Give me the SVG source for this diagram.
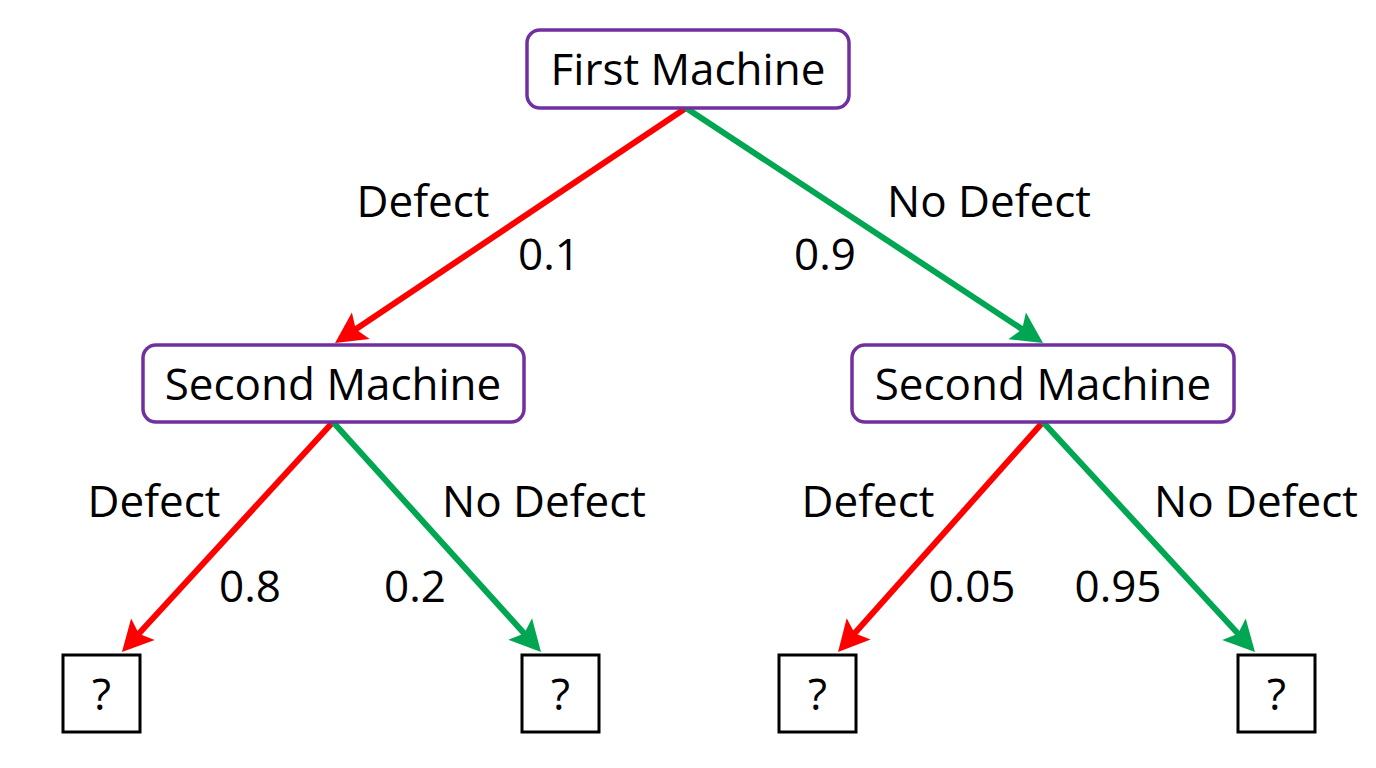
<svg xmlns="http://www.w3.org/2000/svg" width="1376" height="768" viewBox="0 0 1376 768">
<style>
.node{fill:#fff;stroke:#7030A0;stroke-width:3.5}
.leaf{fill:#fff;stroke:#000;stroke-width:3}
text{font-family:"Open Sans","Noto Sans",sans-serif;font-size:44px;fill:#000;text-anchor:middle}
.red{stroke:#FF0000;stroke-width:6;fill:none;marker-end:url(#ar)}
.green{stroke:#00A651;stroke-width:6;fill:none;marker-end:url(#ag)}
</style>
<defs>
<marker id="ar" markerUnits="userSpaceOnUse" viewBox="-18 -18 36 36" markerWidth="36" markerHeight="36" refX="0" refY="0" orient="auto" overflow="visible">
<path d="M15,0 L-16,-16 L-10,0 L-16,16 Z" fill="#FF0000"/>
</marker>
<marker id="ag" markerUnits="userSpaceOnUse" viewBox="-18 -18 36 36" markerWidth="36" markerHeight="36" refX="0" refY="0" orient="auto" overflow="visible">
<path d="M15,0 L-16,-16 L-10,0 L-16,16 Z" fill="#00A651"/>
</marker>
</defs>
<rect width="1376" height="768" fill="#fff"/>
<g id="connectors">
<line class="red" x1="686" y1="108" x2="347.5" y2="334.7"/>
<line class="green" x1="686" y1="108" x2="1030.5" y2="334.7"/>
<line class="red" x1="333" y1="422" x2="132.1" y2="641"/>
<line class="green" x1="333" y1="422" x2="530.9" y2="640.9"/>
<line class="red" x1="1043" y1="422" x2="848" y2="640.8"/>
<line class="green" x1="1043" y1="422" x2="1244.8" y2="641"/>
</g>
<g id="labels">
<text x="423" y="217">Defect</text>
<text x="549" y="270">0.1</text>
<text x="989" y="217">No Defect</text>
<text x="825" y="270">0.9</text>
<text x="154" y="517">Defect</text>
<text x="250" y="602">0.8</text>
<text x="544" y="517">No Defect</text>
<text x="415" y="602">0.2</text>
<text x="868" y="517">Defect</text>
<text x="972" y="602">0.05</text>
<text x="1256" y="517">No Defect</text>
<text x="1118" y="602">0.95</text>
</g>
<g id="first-machine">
<rect class="node" x="527" y="30" width="322" height="78" rx="13"/>
<text x="688" y="85">First Machine</text>
</g>
<g id="second-machine-left">
<rect class="node" x="143" y="345" width="381" height="77" rx="13"/>
<text x="333" y="400">Second Machine</text>
</g>
<g id="second-machine-right">
<rect class="node" x="852" y="345" width="382" height="77" rx="13"/>
<text x="1043" y="400">Second Machine</text>
</g>
<g id="leaf-1">
<rect class="leaf" x="63" y="655" width="77" height="77"/>
<text x="101.5" y="710">?</text>
</g>
<g id="leaf-2">
<rect class="leaf" x="522" y="655" width="77" height="77"/>
<text x="560.5" y="710">?</text>
</g>
<g id="leaf-3">
<rect class="leaf" x="779" y="655" width="77" height="77"/>
<text x="817.5" y="710">?</text>
</g>
<g id="leaf-4">
<rect class="leaf" x="1238" y="655" width="77" height="77"/>
<text x="1276.5" y="710">?</text>
</g>
</svg>
